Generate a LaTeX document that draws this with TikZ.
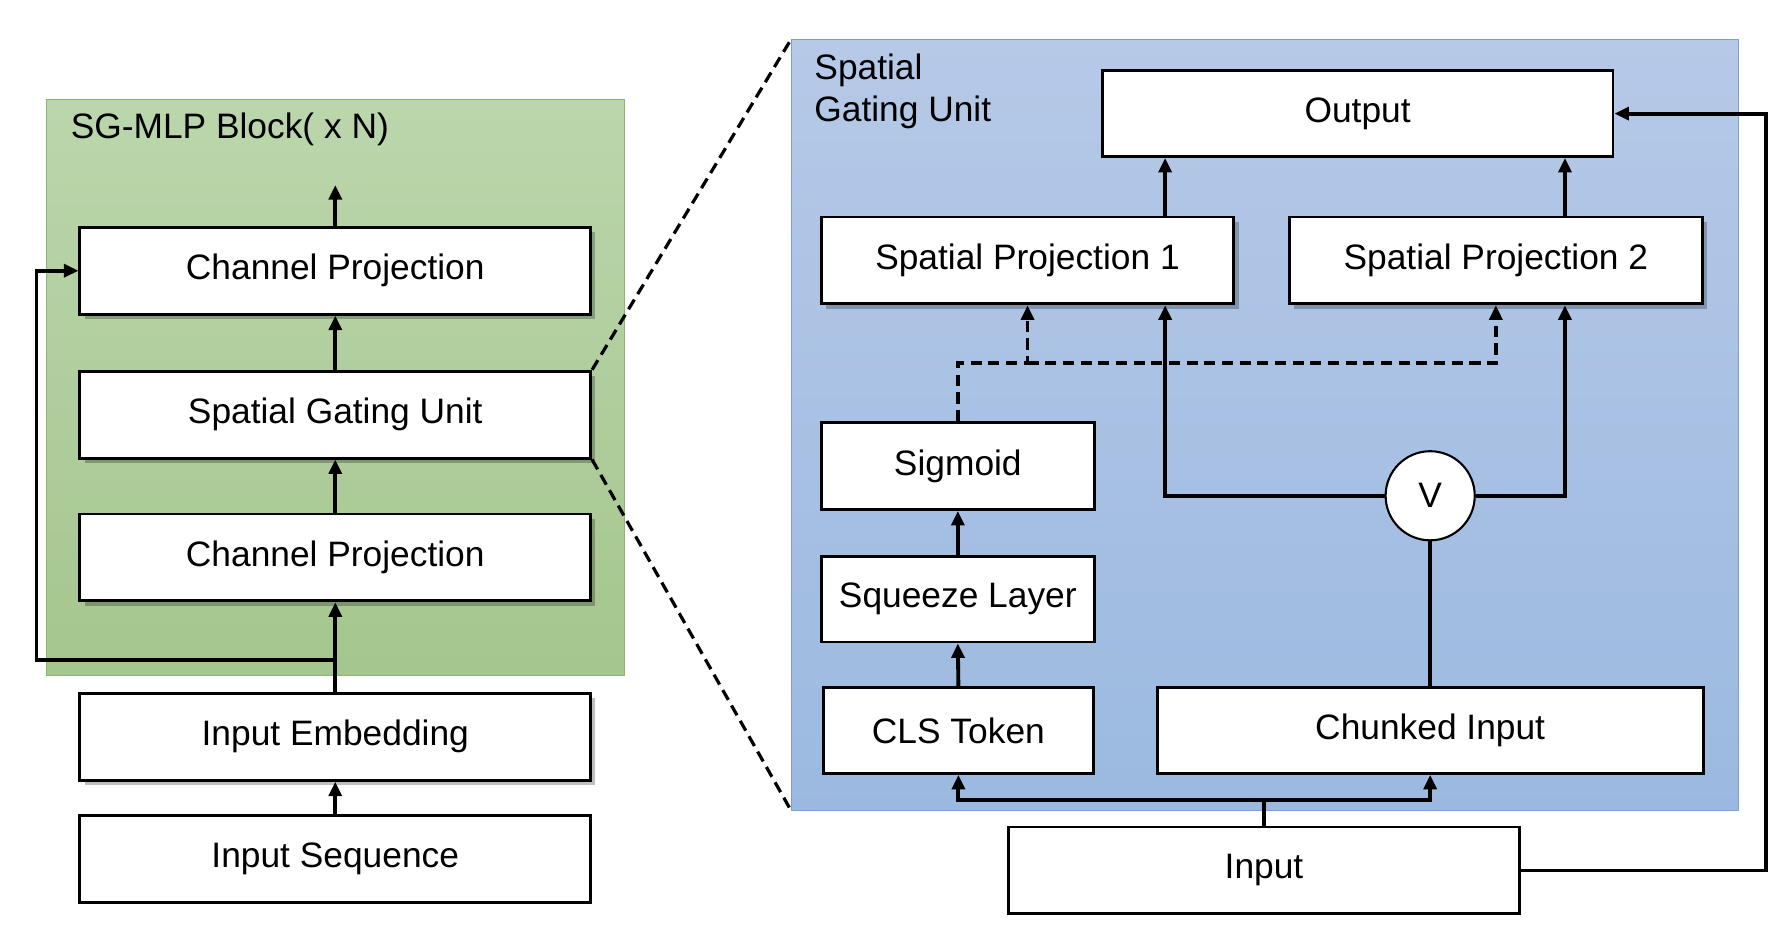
\documentclass[tikz,border=0pt]{standalone}
\usepackage{fontspec}
\setmainfont{Liberation Sans}
\usetikzlibrary{arrows.meta,shadows}

\begin{document}
\begin{tikzpicture}[x=0.025cm,y=-0.025cm]

    \tikzset{
      box/.style={
        draw,
        fill=white,
        line width=1.8pt,
        inner sep=0pt,
        minimum height=1.9cm,
        font=\fontsize{22}{26}\selectfont,
      },
      shadowed/.style={
        drop shadow={shadow xshift=3pt,shadow yshift=-3pt,opacity=0.25,fill=black},
      },
      arr/.style={
        line width=2.4pt,
        -{Triangle[length=9pt,width=8pt]},
      },
      link/.style={
        line width=2.4pt,
      },
      zoomline/.style={
        line width=2pt,
        dash pattern=on 7pt off 4pt,
      },
    }
    \useasboundingbox (0,0) rectangle (1560,816);
    % backgrounds
    \node[draw={rgb,255:red,140;green,180;blue,115},line width=0.6pt,top color={rgb,255:red,187;green,214;blue,172},bottom color={rgb,255:red,165;green,198;blue,142},minimum width=12.65cm,minimum height=12.6cm,inner sep=0pt] (mlp) at (294,339) {};
    \node[draw={rgb,255:red,120;green,160;blue,215},line width=0.6pt,top color={rgb,255:red,182;green,201;blue,231},bottom color={rgb,255:red,155;green,185;blue,224},minimum width=20.725cm,minimum height=16.85cm,inner sep=0pt] (sgubg) at (1107.5,372) {};
    \node[anchor=west,font=\fontsize{22}{26}\selectfont] (mlptitle) at (57,113) {SG-MLP Block( x N)};
    \node[anchor=west,align=left,font=\fontsize{22}{25.6}\selectfont] (sgutitle) at (708,80) {Spatial\\Gating Unit};

    % left column
    \node[box,shadowed,minimum width=11.175cm] (cp2) at (293.5,237) {Channel Projection};
    \node[box,shadowed,minimum width=11.175cm] (sgu) at (293.5,363) {Spatial Gating Unit};
    \node[box,shadowed,minimum width=11.175cm] (cp1) at (293.5,488) {Channel Projection};
    \node[box,shadowed,minimum width=11.175cm] (emb) at (293.5,645) {Input Embedding};
    \node[box,minimum width=11.175cm] (seq) at (293.5,752) {Input Sequence};
    \coordinate (top) at (293.5,162);
    \coordinate (skip) at (32,578);

    \draw[arr] (cp2.north) -- (top);
    \draw[arr] (sgu.north) -- (cp2.south);
    \draw[arr] (cp1.north) -- (sgu.south);
    \draw[arr] (emb.north) -- (cp1.south);
    \draw[arr] (seq.north) -- (emb.south);
    \draw[arr] (emb.north |- skip) -- (skip) |- (cp2.west);

    % zoom lines
    \draw[zoomline] (sgu.north east) -- (sgubg.north west);
    \draw[zoomline] (sgu.south east) -- (sgubg.south west);

    % spatial gating unit
    \node[box,minimum width=11.175cm,minimum height=1.875cm] (out) at (1188.5,99.5) {Output};
    \node[box,shadowed,minimum width=9.025cm] (sp1) at (899.5,228) {Spatial Projection 1};
    \node[box,shadowed,minimum width=9.025cm] (sp2) at (1309.5,228) {Spatial Projection 2};
    \node[box,minimum width=5.975cm] (sig) at (838.5,408) {Sigmoid};
    \node[box,minimum width=5.975cm,minimum height=1.875cm] (sq) at (838.5,524.5) {Squeeze Layer};
    \node[box,minimum width=5.9cm,minimum height=1.875cm] (cls) at (839,639.5) {CLS Token};
    \node[box,minimum width=11.95cm,minimum height=1.875cm] (chunk) at (1252,639.5) {Chunked Input};
    \node[box,minimum width=11.175cm] (inp) at (1106.5,762) {Input};
    \node[draw,circle,fill=white,line width=1.3pt,minimum size=1.95cm,inner sep=0pt,font=\fontsize{22}{26}\selectfont] (vee) at (1252,434) {V};

    \coordinate (left) at (1020,434);
    \coordinate (right) at (1370,434);
    \coordinate (dj) at (899.5,318);
    \coordinate (ij) at (1106.5,700);

    \draw[arr] (sq.north) -- (sig.south);
    \draw[arr] (cls.north) -- (sq.south);
    \draw[link] (chunk.north) -- (vee.south);
    \draw[arr] (vee.west) -- (left) -- (left |- sp1.south);
    \draw[arr] (vee.east) -- (right) -- (right |- sp2.south);
    \draw[arr] (left |- sp1.north) -- (left |- out.south);
    \draw[arr] (right |- sp2.north) -- (right |- out.south);
    \draw[arr,dash pattern=on 7pt off 4pt] (sig.north) |- (dj) -- (sp1.south);
    \draw[arr,dash pattern=on 7pt off 4pt] (dj) -| (sp2.south);
    \draw[arr] (inp.north) -- (ij) -| (cls.south);
    \draw[arr] (ij) -| (chunk.south);
    \draw[arr] (inp.east) -- ++(215,0) |- (out.east);

\end{tikzpicture}
\end{document}
